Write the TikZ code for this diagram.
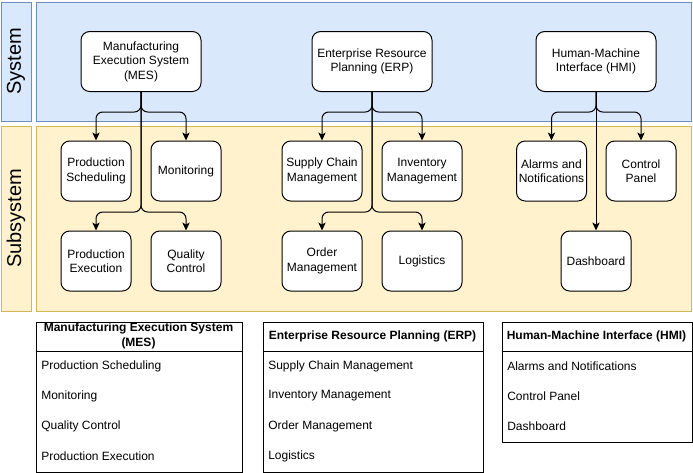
\documentclass[tikz,border=0pt]{standalone}
\usepackage{fontspec}
\setmainfont{Liberation Sans}
\usetikzlibrary{arrows.meta}
\definecolor{sysfill}{HTML}{DAE8FC}
\definecolor{sysdraw}{HTML}{6C8EBF}
\definecolor{subfill}{HTML}{FFF2CC}
\definecolor{subdraw}{HTML}{D6B656}
\tikzset{
  base/.style={draw=black, line width=0.75pt, fill=white, rounded corners=6.5pt, align=center,
    inner sep=0pt, font=\fontsize{9}{10.9}\selectfont},
  sysbox/.style={base, minimum width=90pt, minimum height=45pt},
  subbox/.style={base, minimum width=52.5pt, minimum height=45pt},
  widebox/.style={base, minimum width=60pt, minimum height=45pt},
  lanelabel/.style={draw=#1, line width=0.75pt, anchor=north west, inner sep=0pt},
  arr/.style={draw=black, line width=0.75pt, rounded corners=5pt, -{Stealth[length=6pt,width=5.5pt,inset=1.5pt]}},
  tbl/.style={draw=black, line width=0.75pt, anchor=north west, inner sep=0pt},
  thead/.style={font=\bfseries\fontsize{9}{11}\selectfont, align=center, inner sep=0pt},
  trow/.style={font=\fontsize{9}{11}\selectfont, anchor=west, inner sep=0pt},
}
\begin{document}
\begin{tikzpicture}[x=0.75pt, y=-0.75pt]
\useasboundingbox (0,0) rectangle (693,472);
% lanes
\node[lanelabel=sysdraw, fill=sysfill, minimum width=22.5pt, minimum height=89.25pt] (syslab) at (0.5,1.5) {};
\node[lanelabel=sysdraw, fill=sysfill, minimum width=491.25pt, minimum height=89.25pt] (syslane) at (35.5,1.5) {};
\node[lanelabel=subdraw, fill=subfill, minimum width=22.5pt, minimum height=138.75pt] (sublab) at (0.5,125.5) {};
\node[lanelabel=subdraw, fill=subfill, minimum width=491.25pt, minimum height=138.75pt] (sublane) at (35.5,125.5) {};
\node[rotate=90, font=\fontsize{15}{18}\selectfont, inner sep=0pt] (systxt) at (syslab.center) {System};
\node[rotate=90, font=\fontsize{15}{18}\selectfont, inner sep=0pt] (subtxt) at (sublab.center) {Subsystem};
% systems
\node[sysbox] (mes) at (141,61.5) {Manufacturing\\Execution System\\(MES)};
\node[sysbox] (erp) at (372,61.5) {Enterprise Resource\\Planning (ERP)};
\node[sysbox] (hmi) at (596,61.5) {Human-Machine\\Interface (HMI)};
% subsystems
\node[subbox] (ps) at (96,171) {Production\\Scheduling};
\node[subbox] (mon) at (186,171) {Monitoring};
\node[subbox] (pe) at (96,261) {Production\\Execution};
\node[subbox] (qc) at (186,261) {Quality\\Control};
\node[widebox] (scm) at (322,171) {Supply Chain\\Management};
\node[widebox] (inv) at (422,171) {Inventory\\Management};
\node[widebox] (om) at (322,261) {Order\\Management};
\node[widebox] (log) at (422,261) {Logistics};
\node[subbox] (alarm) at (551.5,171) {Alarms and\\Notifications};
\node[subbox] (cp) at (641,171) {Control\\Panel};
\node[subbox] (dash) at (596,261) {Dashboard};
% connectors
\draw[arr] (mes.south) -- ++(0,20) -| (ps.north);
\draw[arr] (mes.south) -- ++(0,20) -| (mon.north);
\draw[arr] (mes.south) -- ++(0,120) -| (pe.north);
\draw[arr] (mes.south) -- ++(0,120) -| (qc.north);
\draw[arr] (erp.south) -- ++(0,20) -| (scm.north);
\draw[arr] (erp.south) -- ++(0,20) -| (inv.north);
\draw[arr] (erp.south) -- ++(0,120) -| (om.north);
\draw[arr] (erp.south) -- ++(0,120) -| (log.north);
\draw[arr] (hmi.south) -- ++(0,20) -| (alarm.north);
\draw[arr] (hmi.south) -- ++(0,20) -| (cp.north);
\draw[arr] (hmi.south) -- (dash.north);
% tables
\node[tbl, minimum width=154.5pt, minimum height=112.5pt] (t1) at (35.5,321.5) {};
\node[tbl, minimum width=165pt, minimum height=112.5pt] (t2) at (262.5,321.5) {};
\node[tbl, minimum width=142.5pt, minimum height=90pt] (t3) at (501.5,321.5) {};
\coordinate (t1a) at (35.5,351.5); \coordinate (t1b) at (241.5,351.5);
\coordinate (t2a) at (262.5,351.5); \coordinate (t2b) at (482.5,351.5);
\coordinate (t3a) at (501.5,351.5); \coordinate (t3b) at (691.5,351.5);
\draw[line width=0.75pt] (t1a) -- (t1b);
\draw[line width=0.75pt] (t2a) -- (t2b);
\draw[line width=0.75pt] (t3a) -- (t3b);
\node[thead] (h1) at (138.5,336) {Manufacturing Execution System\\(MES)};
\node[thead] (h2) at (372.5,336.5) {Enterprise Resource Planning (ERP)};
\node[thead] (h3) at (596.5,336.5) {Human-Machine Interface (HMI)};
\node[trow] (r11) at (41,366) {Production Scheduling};
\node[trow] (r12) at (41,396) {Monitoring};
\node[trow] (r13) at (41,426) {Quality Control};
\node[trow] (r14) at (41,456) {Production Execution};
\node[trow] (r21) at (268,366) {Supply Chain Management};
\node[trow] (r22) at (268,396) {Inventory Management};
\node[trow] (r23) at (268,426) {Order Management};
\node[trow] (r24) at (268,456) {Logistics};
\node[trow] (r31) at (507,366) {Alarms and Notifications};
\node[trow] (r32) at (507,396) {Control Panel};
\node[trow] (r33) at (507,426) {Dashboard};
\end{tikzpicture}
\end{document}
